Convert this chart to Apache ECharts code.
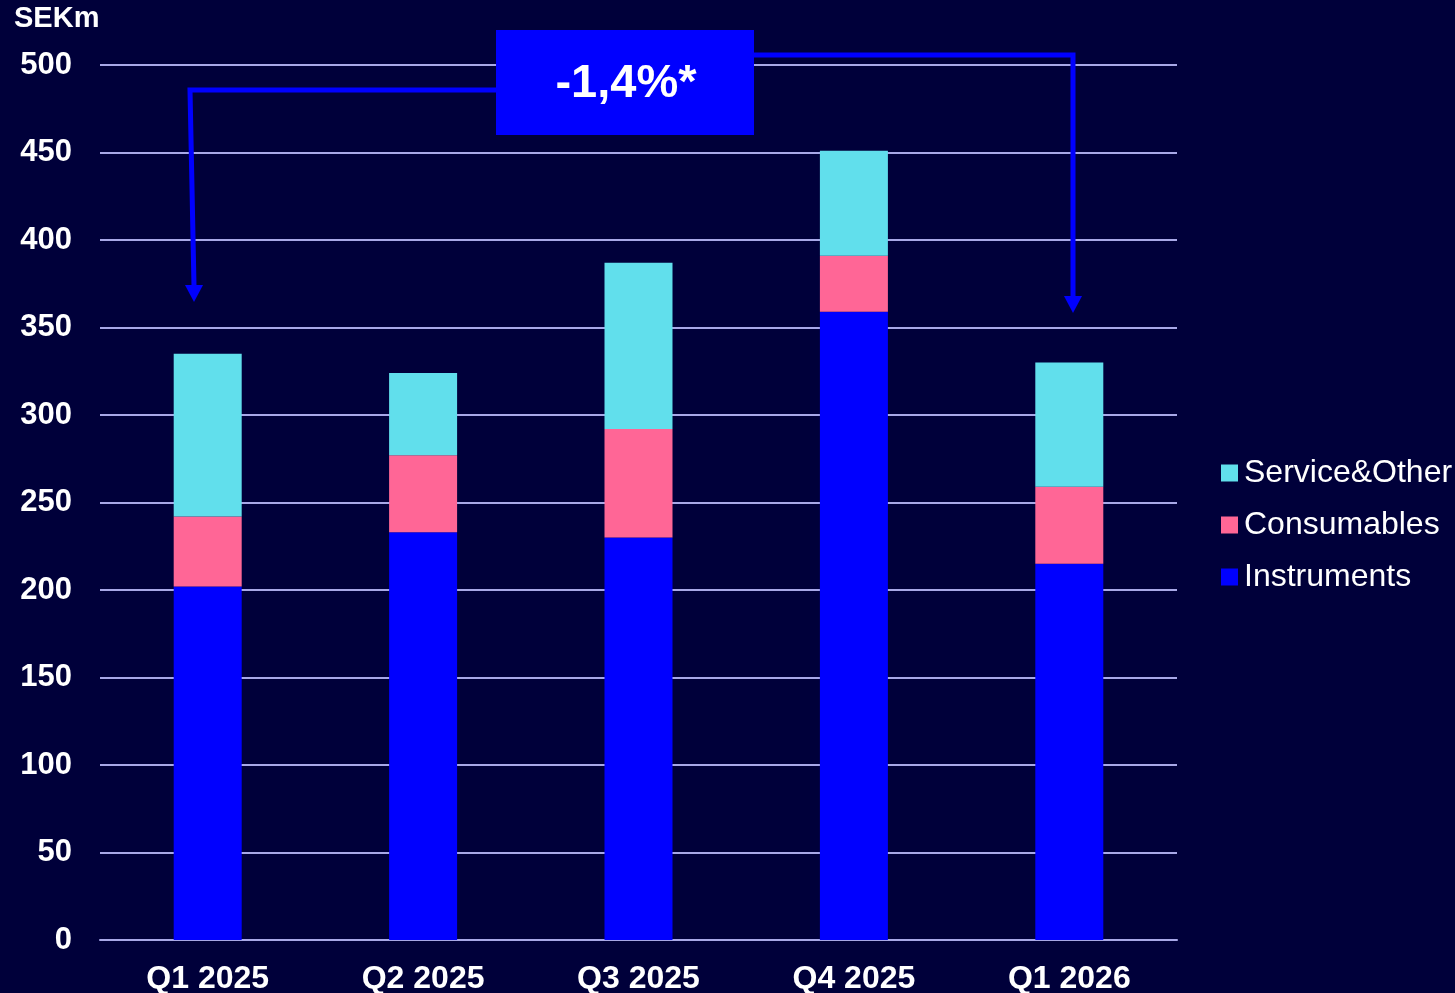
<!DOCTYPE html>
<html>
<head>
<meta charset="utf-8">
<script src="https://cdn.jsdelivr.net/npm/echarts@6/dist/echarts.min.js"></script>
<style>
  html, body { margin: 0; padding: 0; background: #00003a; }
  #chart { width: 1455px; height: 993px; }
</style>
</head>
<body>
<div id="chart"></div>
<script>
const quarters = ["Q1 2025", "Q2 2025", "Q3 2025", "Q4 2025", "Q1 2026"];
const instruments = [202, 233, 230, 359, 215];
const consumables = [40, 44, 62, 32, 44];
const serviceOther = [93, 47, 95, 60, 71];
const yTicks = { min: 0, max: 500, interval: 50 };
const changeLabel = "-1,4%*";

const FONT = "Liberation Sans, Arial, sans-serif";
const BLUE = "#0000ff";

const chart = echarts.init(document.getElementById("chart"));

const arrowHead = (x, y) => ({
  type: "polygon",
  shape: { points: [[x - 9, y - 17], [x + 9, y - 17], [x, y]] },
  style: { fill: BLUE },
  z: 10,
});

chart.setOption({
  backgroundColor: "#00003a",
  animation: false,
  grid: { left: 100, right: 278, top: 65, bottom: 53, outerBoundsMode: "none" },
  legend: {
    orient: "vertical",
    left: 1216,
    top: 452,
    itemWidth: 17,
    itemHeight: 17,
    itemGap: 20,
    icon: "rect",
    data: ["Service&Other", "Consumables", "Instruments"],
    textStyle: { color: "#ffffff", fontFamily: FONT, fontSize: 32, padding: [0, 0, 0, 1] },
  },
  xAxis: {
    type: "category",
    data: quarters,
    axisLine: { lineStyle: { color: "#a8a8e8", width: 2 } },
    axisTick: { show: false },
    axisLabel: {
      color: "#ffffff",
      fontFamily: FONT,
      fontWeight: "bold",
      fontSize: 32,
      margin: 23,
    },
  },
  yAxis: {
    type: "value",
    ...yTicks,
    axisLine: { show: false },
    axisTick: { show: false },
    splitLine: { lineStyle: { color: "#a8a8e8", width: 2 } },
    axisLabel: {
      color: "#ffffff",
      fontFamily: FONT,
      fontWeight: "bold",
      fontSize: 31,
      margin: 28,
    },
  },
  series: [
    {
      name: "Instruments",
      type: "bar",
      stack: "sales",
      barWidth: 68,
      itemStyle: { color: BLUE },
      data: instruments,
    },
    {
      name: "Consumables",
      type: "bar",
      stack: "sales",
      barWidth: 68,
      itemStyle: { color: "#ff6696" },
      data: consumables,
    },
    {
      name: "Service&Other",
      type: "bar",
      stack: "sales",
      barWidth: 68,
      itemStyle: { color: "#61dfec" },
      data: serviceOther,
    },
  ],
  graphic: [
    {
      type: "text",
      left: 14,
      top: 4,
      style: { text: "SEKm", fill: "#ffffff", font: "bold 29px " + FONT },
    },
    {
      type: "polyline",
      shape: { points: [[496, 90], [190, 90], [194, 286]] },
      style: { stroke: BLUE, lineWidth: 5, fill: null },
      z: 10,
    },
    arrowHead(194, 302),
    {
      type: "polyline",
      shape: { points: [[754, 55], [1073, 55], [1073, 297]] },
      style: { stroke: BLUE, lineWidth: 5, fill: null },
      z: 10,
    },
    arrowHead(1073, 313),
    {
      type: "rect",
      shape: { x: 496, y: 30, width: 258, height: 105 },
      style: { fill: BLUE },
      z: 11,
    },
    {
      type: "text",
      x: 626,
      y: 84,
      style: {
        text: changeLabel,
        fill: "#ffffff",
        font: "bold 47px " + FONT,
        align: "center",
        verticalAlign: "middle",
      },
      z: 12,
    },
  ],
});
</script>
</body>
</html>
